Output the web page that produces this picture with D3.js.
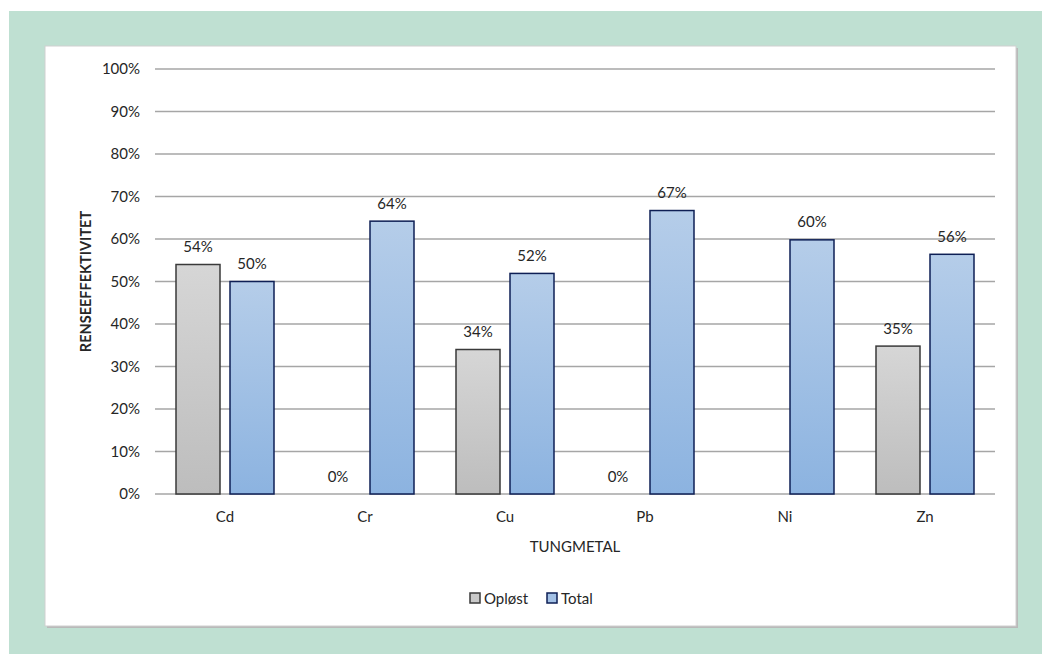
<!DOCTYPE html>
<html>
<head>
<meta charset="utf-8">
<script src="https://cdn.jsdelivr.net/npm/d3@7"></script>
<style>
  html, body { margin: 0; padding: 0; background: #ffffff; }
  svg { display: block; }
  text { font-family: Lato, "Open Sans", sans-serif; fill: #262626; }
</style>
</head>
<body>
<svg id="chart" width="1042" height="654"></svg>
<script>
// Heavy metals and purification efficiency (%)
const categories = ["Cd", "Cr", "Cu", "Pb", "Ni", "Zn"];
const seriesNames = ["Opløst", "Total"];
const oploest = [54, 0, 34, 0, null, 34.8];
const total = [50, 64.2, 51.9, 66.7, 59.8, 56.4];
const yTicks = [0, 10, 20, 30, 40, 50, 60, 70, 80, 90, 100];
const yTitle = "RENSEEFFEKTIVITET";
const xTitle = "TUNGMETAL";

const svg = d3.select("#chart");
const W = 1042, H = 654;
const FS = 15;

// backdrop and card
svg.append("rect").attr("x", 9).attr("y", 11).attr("width", W - 9).attr("height", H - 11).attr("fill", "#bfe0d2");
svg.append("rect").attr("x", 47).attr("y", 48).attr("width", 971).attr("height", 580).attr("fill", "#b9b9b9");
svg.append("rect").attr("x", 45).attr("y", 46).attr("width", 971).attr("height", 580)
  .attr("fill", "#ffffff").attr("stroke", "#cfcfcf").attr("stroke-width", 1);

const defs = svg.append("defs");
const gradGray = defs.append("linearGradient").attr("id", "gGray").attr("x1", 0).attr("y1", 0).attr("x2", 0).attr("y2", 1);
gradGray.append("stop").attr("offset", "0%").attr("stop-color", "#d6d6d6");
gradGray.append("stop").attr("offset", "100%").attr("stop-color", "#bdbdbd");
const gradBlue = defs.append("linearGradient").attr("id", "gBlue").attr("x1", 0).attr("y1", 0).attr("x2", 0).attr("y2", 1);
gradBlue.append("stop").attr("offset", "0%").attr("stop-color", "#b5cde9");
gradBlue.append("stop").attr("offset", "100%").attr("stop-color", "#8cb3e0");

const plot = { left: 155, right: 995, top: 69, bottom: 494 };

const x = d3.scaleBand().domain(categories).range([plot.left, plot.right]).paddingInner(0).paddingOuter(0);
const y = d3.scaleLinear().domain([0, 100]).range([plot.bottom, plot.top]);

// gridlines
svg.append("g").selectAll("line").data(yTicks).join("line")
  .attr("x1", plot.left).attr("x2", plot.right)
  .attr("y1", d => y(d)).attr("y2", d => y(d))
  .attr("stroke", "#a6a6a6").attr("stroke-width", 1.5);

// y tick labels
const yAxis = d3.axisLeft(y).tickValues(yTicks).tickFormat(d => d + "%").tickSize(0).tickPadding(0);
const gy = svg.append("g").attr("transform", `translate(${plot.left - 15},0)`).call(yAxis);
gy.select(".domain").remove();
gy.selectAll("text").attr("font-size", FS).attr("fill", "#262626")
  .style("font-family", "Lato, 'Open Sans', sans-serif");

// x tick labels
const xAxis = d3.axisBottom(x).tickSize(0).tickPadding(0);
const gx = svg.append("g").attr("transform", `translate(0,${plot.bottom + 17})`).call(xAxis);
gx.select(".domain").remove();
gx.selectAll("text").attr("font-size", FS).attr("fill", "#262626")
  .style("font-family", "Lato, 'Open Sans', sans-serif");

// bars
const barW = 44, gap = 10;
const series = [
  { name: seriesNames[0], values: oploest, fill: "url(#gGray)", stroke: "#3a3a3a", offset: -(gap / 2 + barW) },
  { name: seriesNames[1], values: total, fill: "url(#gBlue)", stroke: "#0e1f55", offset: gap / 2 }
];

series.forEach(s => {
  const g = svg.append("g");
  const data = categories.map((c, i) => ({ c, v: s.values[i] })).filter(d => d.v !== null);
  g.selectAll("rect").data(data.filter(d => d.v > 0)).join("rect")
    .attr("x", d => x(d.c) + x.bandwidth() / 2 + s.offset)
    .attr("y", d => y(d.v))
    .attr("width", barW)
    .attr("height", d => y(0) - y(d.v))
    .attr("fill", s.fill).attr("stroke", s.stroke).attr("stroke-width", 1.5);
  g.selectAll("text").data(data).join("text")
    .attr("x", d => x(d.c) + x.bandwidth() / 2 + s.offset + barW / 2)
    .attr("y", d => y(d.v) - 12.5)
    .attr("text-anchor", "middle")
    .attr("font-size", FS)
    .text(d => Math.round(d.v) + "%");
});

// axis titles
svg.append("text")
  .attr("transform", `translate(91,${(plot.top + plot.bottom) / 2}) rotate(-90)`)
  .attr("text-anchor", "middle").attr("font-size", 14.5).attr("font-weight", 700)
  .attr("fill", "#262626").text(yTitle);

svg.append("text")
  .attr("x", (plot.left + plot.right) / 2).attr("y", plot.bottom + 58)
  .attr("text-anchor", "middle").attr("font-size", FS).text(xTitle);

// legend
const legend = svg.append("g").attr("transform", "translate(470,598)");
const legendItems = [
  { name: seriesNames[0], fill: "#c9c9c9", stroke: "#3a3a3a", dx: 0 },
  { name: seriesNames[1], fill: "#a3c1e6", stroke: "#0e1f55", dx: 77 }
];
legendItems.forEach(it => {
  const g = legend.append("g").attr("transform", `translate(${it.dx},0)`);
  g.append("rect").attr("x", 0).attr("y", -5).attr("width", 10).attr("height", 10)
    .attr("fill", it.fill).attr("stroke", it.stroke).attr("stroke-width", 1.5);
  g.append("text").attr("x", 14).attr("y", 5.5).attr("font-size", FS).text(it.name);
});
</script>
</body>
</html>
